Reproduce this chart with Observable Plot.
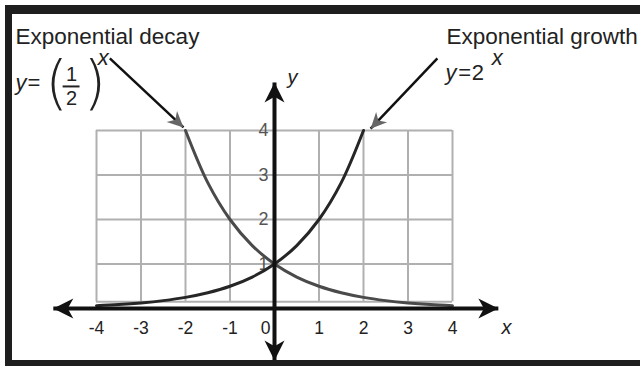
<!DOCTYPE html>
<html><head><meta charset="utf-8">
<script src="https://cdn.jsdelivr.net/npm/d3@7"></script>
<script src="https://cdn.jsdelivr.net/npm/@observablehq/plot@0.6"></script>
<style>
html,body{margin:0;padding:0;background:#fff;}
#wrap{position:relative;width:640px;height:366px;overflow:hidden;background:#fff;}
#wrap svg{position:absolute;left:0;top:0;}
#border{position:absolute;left:5px;top:5px;width:635px;height:361px;box-sizing:border-box;border-top:9px solid #1e1e1e;border-left:7px solid #1e1e1e;border-bottom:6px solid #1e1e1e;pointer-events:none;}
</style></head>
<body><div id="wrap"><div id="border"></div></div>
<script>
// ---- data ----
const xTicks = [-4, -3, -2, -1, 0, 1, 2, 3, 4];
const xTickLabels = ["-4", "-3", "-2", "-1", "0", "1", "2", "3", "4"];
const yTicks = [1, 2, 3, 4];
const yTickLabels = ["1", "2", "3", "4"];
// y = 2^x
const growthX = [-4, -3.5, -3, -2.5, -2, -1.5, -1, -0.5, 0, 0.5, 1, 1.5, 2];
const growthY = [0.0625, 0.088, 0.125, 0.177, 0.25, 0.354, 0.5, 0.707, 1, 1.414, 2, 2.828, 4];
// y = (1/2)^x
const decayX = [-2, -1.5, -1, -0.5, 0, 0.5, 1, 1.5, 2, 2.5, 3, 3.5, 4];
const decayY = [4, 2.828, 2, 1.414, 1, 0.707, 0.5, 0.354, 0.25, 0.177, 0.125, 0.088, 0.0625];
const titles = ["Exponential decay", "Exponential growth"];

// ---- build tables ----
const growth = growthX.map((x, i) => ({x, y: growthY[i]}));
const decay = decayX.map((x, i) => ({x, y: decayY[i]}));
const xt = xTicks.map((v, i) => ({v, label: xTickLabels[i]}));
const yt = yTicks.map((v, i) => ({v, label: yTickLabels[i]}));

const FONT = "'Liberation Sans', Arial, Helvetica, sans-serif";
const THIN = "'DejaVu Sans ExtraLight', 'DejaVu Sans', sans-serif";

// arrowhead symbol: tip at origin, pointing up
function headSymbol(halfWidthRatio, notch) {
  return {draw(ctx, size) {
    const r = Math.sqrt(size / Math.PI);
    const L = 2 * r, W = halfWidthRatio * r;
    ctx.moveTo(0, 0);
    ctx.lineTo(W, L);
    ctx.lineTo(0, L * notch);
    ctx.lineTo(-W, L);
    ctx.closePath();
  }};
}
const axisHead = headSymbol(1.0, 0.72);
const ptrHead = headSymbol(0.95, 0.7);

// axes (arrow lines) in data units
const axisLines = [
  {x1: -4.97, y1: 0, x2: 5.03, y2: 0},
  {x1: 0, y1: -1.17, x2: 0, y2: 5.08}
];
const axisHeads = [
  {x: -4.97, y: 0, rot: -90},
  {x: 5.03, y: 0, rot: 90},
  {x: 0, y: 5.08, rot: 0},
  {x: 0, y: -1.17, rot: 180}
];
// pointer arrows from labels to curve ends
const pointers = [
  {x1: -3.70, y1: 5.62, x2: -2.045, y2: 4.07},
  {x1: 3.66, y1: 5.62, x2: 2.16, y2: 4.04}
];
pointers.forEach(p => {
  const dx = p.x2 - p.x1, dyScreen = -(p.y2 - p.y1);
  p.rot = Math.atan2(dx, -dyScreen) * 180 / Math.PI;
});

const txt = (text, x, y, o = {}) => Plot.text([text], {
  x: () => x, y: () => y, text: d => d,
  textAnchor: "start", lineAnchor: "bottom",
  fontSize: 22, fill: "#222", fontFamily: FONT, ...o
});

const chart = Plot.plot({
  width: 640,
  height: 366,
  marginLeft: 96,
  marginRight: 188,
  marginTop: 130,
  marginBottom: 58,
  x: {domain: [-4, 4], axis: null},
  y: {domain: [0, 4], axis: null},
  style: {fontFamily: FONT, background: "transparent", overflow: "visible"},
  marks: [
    // grid
    Plot.ruleX(xTicks, {x: d => d, y1: 0.15, y2: 4, stroke: "#b0b0b0", strokeWidth: 2}),
    Plot.ruleY([0.15, ...yTicks], {y: d => d, x1: -4, x2: 4, stroke: "#b0b0b0", strokeWidth: 2}),
    // y tick labels
    Plot.text(yt, {x: () => -0.247, y: "v", text: "label", fontSize: 18, fill: "#555", textAnchor: "middle", lineAnchor: "middle", fontFamily: FONT}),
    // curves
    Plot.line(decay, {x: "x", y: "y", curve: "catmull-rom", stroke: "#4a4a4a", strokeWidth: 3}),
    Plot.line(growth, {x: "x", y: "y", curve: "catmull-rom", stroke: "#262626", strokeWidth: 3}),
    // axes
    Plot.link(axisLines, {x1: "x1", y1: "y1", x2: "x2", y2: "y2", stroke: "#111", strokeWidth: 4}),
    Plot.dot(axisHeads, {x: "x", y: "y", rotate: "rot", symbol: axisHead, r: 10, fill: "#111", stroke: "none"}),
    // x tick labels
    Plot.text(xt, {x: d => d.v === 0 ? -0.2 : d.v, y: () => -0.584, text: "label", fontSize: 17.5, fill: "#222", textAnchor: "middle", lineAnchor: "bottom", fontFamily: FONT}),
    // axis names
    txt("x", 5.10, -0.584, {fontStyle: "italic", fontSize: 20}),
    txt("y", 0.29, 5.056, {fontStyle: "italic", fontSize: 20}),
    // pointers
    Plot.link(pointers, {x1: "x1", y1: "y1", x2: "x2", y2: "y2", stroke: "#111", strokeWidth: 2.5}),
    Plot.dot(pointers, {x: "x2", y: "y2", rotate: "rot", symbol: ptrHead, r: 8, fill: "#666", stroke: "none"}),
    // titles
    txt(titles[0], -5.82, 5.955, {fontSize: 22.5}),
    txt(titles[1], 3.865, 5.955, {fontSize: 22.5}),
    // decay formula y = (1/2)^x
    txt("y", -5.82, 4.90, {fontStyle: "italic"}),
    txt("=", -5.55, 4.90),
    txt("(", -5.15, 4.62, {fontSize: 58, fontWeight: 300, fontFamily: THIN}),
    txt("1", -4.56, 5.12, {fontSize: 20, textAnchor: "middle"}),
    Plot.ruleY([4.99], {y: d => d, x1: -4.75, x2: -4.37, stroke: "#222", strokeWidth: 2}),
    txt("2", -4.56, 4.57, {fontSize: 20, textAnchor: "middle"}),
    txt(")", -4.29, 4.62, {fontSize: 58, fontWeight: 300, fontFamily: THIN}),
    txt("x", -3.97, 5.48, {fontStyle: "italic"}),
    // growth formula y = 2^x
    txt("y", 3.843, 5.146, {fontStyle: "italic"}),
    txt("=", 4.13, 5.146),
    txt("2", 4.43, 5.146),
    txt("x", 4.88, 5.47, {fontStyle: "italic"})
  ]
});
document.getElementById("wrap").insertBefore(chart, document.getElementById("border"));
</script>
</body></html>
